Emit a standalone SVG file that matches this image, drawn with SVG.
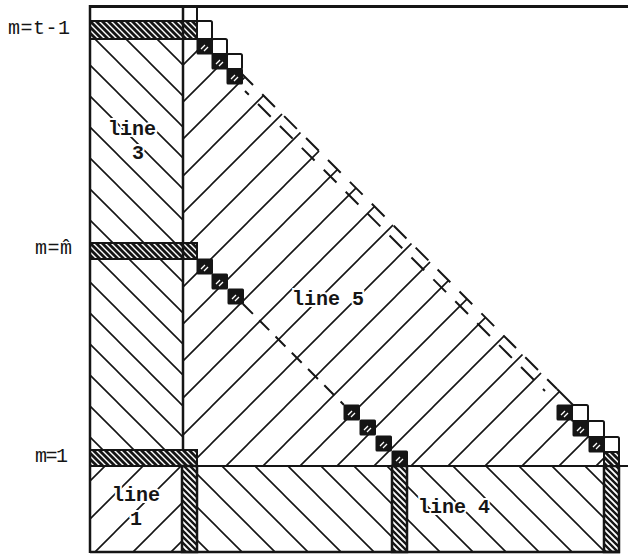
<svg xmlns="http://www.w3.org/2000/svg" width="628" height="556" viewBox="0 0 628 556">
<style>
.h{stroke:#151515;stroke-width:1.6;fill:none}
.lab{font-family:"Liberation Mono","DejaVu Sans Mono",monospace;font-size:20px;fill:#151515}
.lb{font-family:"Liberation Mono","DejaVu Sans Mono",monospace;font-size:20px;font-weight:bold;fill:#151515;stroke:#fff;stroke-width:4;paint-order:stroke}
.wc{fill:#fff;stroke:#151515;stroke-width:2}
.bar{stroke:#151515;stroke-width:2}
.vb{fill:url(#pV);stroke:#151515;stroke-width:2.5}
.ln{stroke:#151515;fill:none}
.dash{stroke:#151515;stroke-width:2;fill:none}
</style>
<defs>
<pattern id="pL" patternUnits="userSpaceOnUse" x="25" y="0" width="31" height="31">
<path d="M0,0L31,31M-2,29L2,33M29,-2L33,2" class="h"/>
</pattern>
<pattern id="pT" patternUnits="userSpaceOnUse" x="26" y="0" width="37" height="37">
<path d="M0,37L37,0M-2,2L2,-2M35,39L39,35" class="h"/>
</pattern>
<pattern id="pB1" patternUnits="userSpaceOnUse" x="1" y="0" width="38" height="38">
<path d="M0,38L38,0M-2,2L2,-2M36,40L40,36" class="h"/>
</pattern>
<pattern id="pB4" patternUnits="userSpaceOnUse" x="20" y="0" width="33" height="33">
<path d="M0,0L33,33M-2,31L2,35M31,-2L35,2" class="h"/>
</pattern>
<pattern id="pBar" patternUnits="userSpaceOnUse" x="0" y="0" width="6" height="6">
<rect width="6" height="6" fill="#151515"/>
<path d="M0,0L6,6M-1,5L1,7M5,-1L7,1" stroke="#fff" stroke-width="1.4"/>
</pattern>
<pattern id="pV" patternUnits="userSpaceOnUse" x="0" y="0" width="6" height="6">
<rect width="6" height="6" fill="#fff"/>
<path d="M0,0L6,6M-1,5L1,7M5,-1L7,1" stroke="#151515" stroke-width="2.4"/>
</pattern>
<g id="bk"><rect x="-0.5" y="-0.5" width="16.5" height="16" rx="1.5" fill="#151515"/><path d="M4,10L8,6M7,12L11,8" stroke="#fff" stroke-width="1.3"/></g>
</defs>

<g id="hatching">
<rect x="90" y="39" width="93" height="204" fill="url(#pL)"/>
<rect x="90" y="259" width="93" height="191" fill="url(#pL)"/>
<polygon points="183,39 207,39 620,452 620,466 183,466" fill="url(#pT)"/>
<rect x="90" y="466" width="92" height="86" fill="url(#pB1)"/>
<rect x="197" y="466" width="407" height="86" fill="url(#pB4)"/>
</g>

<g id="bars">
<rect x="90" y="21" width="107" height="18" fill="url(#pBar)" class="bar"/>
<rect x="90" y="243" width="107" height="16" fill="url(#pBar)" class="bar"/>
<rect x="90" y="450" width="107" height="16" fill="url(#pBar)" class="bar"/>
<rect x="182" y="466" width="15" height="86" class="vb"/>
<rect x="392" y="466" width="15" height="86" class="vb"/>
<rect x="604" y="466" width="15" height="86" class="vb"/>
<rect x="604" y="452" width="15" height="14" fill="url(#pBar)" class="bar"/>
</g>

<g id="cells">
<rect x="183" y="6" width="14" height="15" class="wc"/>
<rect x="197" y="21" width="15" height="18" rx="1.5" class="wc"/>
<rect x="212" y="39" width="15" height="15" rx="1.5" class="wc"/>
<rect x="227" y="54" width="15" height="15" rx="1.5" class="wc"/>
<use href="#bk" x="197" y="39"/>
<use href="#bk" x="212" y="54"/>
<use href="#bk" x="227" y="69"/>
<use href="#bk" x="197" y="259"/>
<use href="#bk" x="212" y="274"/>
<use href="#bk" x="228" y="289"/>
<use href="#bk" x="344" y="405"/>
<use href="#bk" x="360" y="420"/>
<use href="#bk" x="376" y="436"/>
<use href="#bk" x="392" y="451"/>
<rect x="572" y="405" width="16" height="16" rx="1.5" class="wc"/>
<rect x="588" y="421" width="16" height="16" rx="1.5" class="wc"/>
<rect x="604" y="437" width="15" height="15" rx="1.5" class="wc"/>
<use href="#bk" x="557" y="405"/>
<use href="#bk" x="573" y="421"/>
<use href="#bk" x="589" y="437"/>
</g>

<g id="connectors">
<path d="M90,6.5H628" class="ln" stroke-width="3"/>
<path d="M90,5V553" class="ln" stroke-width="2.5"/>
<path d="M183,5V450" class="ln" stroke-width="2.5"/>
<path d="M197,466H628" class="ln" stroke-width="2"/>
<path d="M90,552H620" class="ln" stroke-width="2.5"/>
<path d="M241,73L557,389" class="dash" stroke-dasharray="18 13" stroke-dashoffset="1"/>
<path d="M557,389L573,405" class="dash"/>
<path d="M245,91L545,391" class="dash" stroke-dasharray="18 13" stroke-dashoffset="12.6"/>
<path d="M243,304L344,405" class="dash" stroke-dasharray="14 9"/>
</g>

<g id="labels">
<text x="8" y="34" class="lab" textLength="62">m=t-1</text>
<text x="35" y="254" class="lab" textLength="37">m=m̂</text>
<text x="35" y="462" class="lab" textLength="33">m=1</text>
<text x="108" y="135" class="lb">line</text>
<text x="132" y="159" class="lb">3</text>
<text x="112" y="501" class="lb">line</text>
<text x="130" y="525" class="lb">1</text>
<text x="292" y="305" class="lb">line 5</text>
<text x="418" y="513" class="lb">line 4</text>
</g>
</svg>
